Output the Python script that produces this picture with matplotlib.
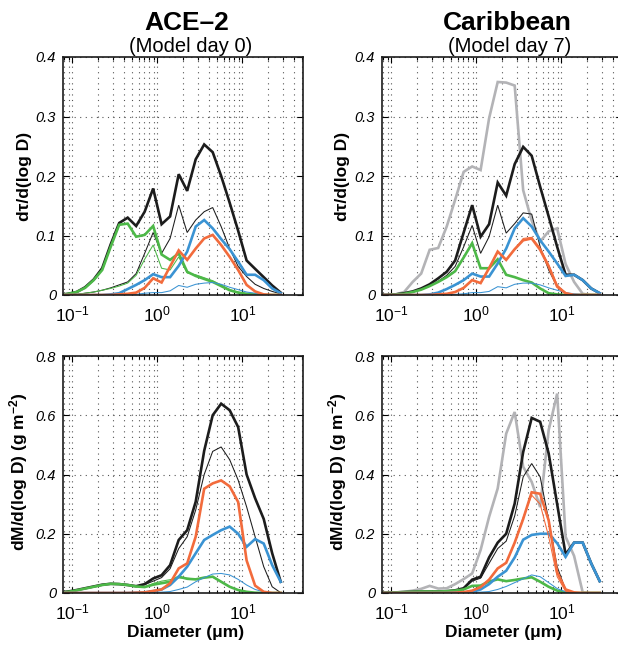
import numpy as np
import matplotlib
matplotlib.use('Agg')
import matplotlib.pyplot as plt

plt.rcParams['font.family'] = ['Liberation Sans', 'DejaVu Sans']
plt.rcParams['mathtext.fontset'] = 'custom'
plt.rcParams['mathtext.rm'] = 'Liberation Sans'
plt.rcParams['mathtext.it'] = 'Liberation Sans:italic'
plt.rcParams['mathtext.bf'] = 'Liberation Sans:bold'
plt.rcParams['mathtext.default'] = 'it'

# diametros dos bins (um), espacamento de 0.1 decada
diam = [0.071, 0.089, 0.112, 0.141, 0.178, 0.224, 0.282, 0.355, 0.447, 0.562,
        0.708, 0.891, 1.12, 1.41, 1.78, 2.24, 2.82, 3.55, 4.47, 5.62,
        7.08, 8.91, 11.2, 14.1, 17.8, 22.4, 28.2]

# ---- d tau / d log D, ACE-2 ----
tau_ace_black = [0, 0.002, 0.005, 0.013, 0.026, 0.045, 0.085, 0.121, 0.130, 0.116, 0.140, 0.179, 0.119, 0.132,
                 0.203, 0.175, 0.228, 0.253, 0.240, 0.200, 0.155, 0.108, 0.058, 0.044, 0.030, 0.016, 0.004]
tau_ace_black_thin = [0, 0, 0.001, 0.003, 0.005, 0.008, 0.012, 0.017, 0.022, 0.036, 0.070, 0.105, 0.070, 0.095,
                      0.151, 0.105, 0.126, 0.140, 0.147, 0.115, 0.078, 0.048, 0.031, 0.018, 0.011, 0.006, 0.002]
tau_ace_green = [0, 0.002, 0.005, 0.012, 0.025, 0.042, 0.081, 0.118, 0.120, 0.098, 0.101, 0.116, 0.068, 0.059,
                 0.070, 0.039, 0.032, 0.027, 0.022, 0.015, 0.008, 0.004, 0.002, 0.001, 0, 0, 0]
tau_ace_green_thin = [0, 0, 0.001, 0.003, 0.005, 0.008, 0.011, 0.015, 0.020, 0.033, 0.060, 0.084, 0.045, 0.042,
                      0.064, 0.037, 0.034, 0.029, 0.024, 0.017, 0.009, 0.005, 0.002, 0.001, 0, 0, 0]
tau_ace_blue = [0, 0, 0, 0, 0, 0, 0.001, 0.003, 0.010, 0.017, 0.025, 0.035, 0.030, 0.030,
                0.049, 0.073, 0.115, 0.126, 0.112, 0.094, 0.077, 0.056, 0.034, 0.034, 0.025, 0.011, 0.003]
tau_ace_blue_thin = [0, 0, 0, 0, 0, 0, 0, 0, 0, 0.001, 0.003, 0.004, 0.004, 0.007,
                     0.016, 0.013, 0.018, 0.020, 0.021, 0.018, 0.013, 0.009, 0.005, 0.003, 0.001, 0, 0]
tau_ace_orange = [0, 0, 0, 0, 0, 0, 0, 0.001, 0.002, 0.004, 0.012, 0.028, 0.021, 0.048,
                  0.075, 0.059, 0.078, 0.095, 0.101, 0.084, 0.064, 0.042, 0.017, 0.006, 0.001, 0, 0]

# ---- d tau / d log D, Caribe ----
tau_car_grey = [0, 0, 0.001, 0.005, 0.022, 0.036, 0.076, 0.079, 0.115, 0.160, 0.207, 0.216, 0.210, 0.297,
                0.358, 0.357, 0.352, 0.176, 0.125, 0.090, 0.107, 0.112, 0.052, 0.022, 0.002, 0, 0]
tau_car_black = [0, 0, 0.001, 0.003, 0.006, 0.011, 0.018, 0.028, 0.039, 0.058, 0.105, 0.151, 0.098, 0.119,
                 0.189, 0.167, 0.220, 0.249, 0.234, 0.182, 0.132, 0.081, 0.034, 0.034, 0.025, 0.011, 0.003]
tau_car_black_thin = [0, 0, 0.001, 0.002, 0.005, 0.009, 0.015, 0.023, 0.033, 0.048, 0.081, 0.117, 0.070, 0.098,
                      0.151, 0.104, 0.120, 0.138, 0.136, 0.081, 0.042, 0.014, 0.003, 0, 0, 0, 0]
tau_car_green = [0, 0, 0.001, 0.002, 0.005, 0.009, 0.015, 0.022, 0.030, 0.040, 0.063, 0.087, 0.045, 0.045,
                 0.060, 0.034, 0.030, 0.025, 0.021, 0.011, 0.003, 0.001, 0, 0, 0, 0, 0]
tau_car_blue = [0, 0, 0, 0, 0, 0, 0.001, 0.004, 0.010, 0.017, 0.025, 0.036, 0.031, 0.031,
                0.053, 0.078, 0.112, 0.129, 0.115, 0.092, 0.073, 0.053, 0.032, 0.034, 0.025, 0.011, 0.003]
tau_car_blue_thin = [0, 0, 0, 0, 0, 0, 0, 0, 0, 0.001, 0.002, 0.004, 0.004, 0.006,
                     0.014, 0.012, 0.018, 0.020, 0.020, 0.017, 0.012, 0.008, 0.004, 0.002, 0.001, 0, 0]
tau_car_orange = [0, 0, 0, 0, 0, 0, 0, 0.001, 0.002, 0.005, 0.012, 0.025, 0.020, 0.045,
                  0.073, 0.059, 0.077, 0.092, 0.095, 0.076, 0.048, 0.014, 0.003, 0, 0, 0, 0]
tau_car_orange_thin = [0, 0, 0, 0, 0, 0, 0, 0.001, 0.002, 0.005, 0.012, 0.025, 0.020, 0.045,
                       0.073, 0.059, 0.077, 0.095, 0.097, 0.079, 0.051, 0.017, 0.004, 0, 0, 0, 0]

# ---- dM / d log D, ACE-2 ----
mass_ace_black = [0.002, 0.005, 0.010, 0.016, 0.022, 0.028, 0.031, 0.030, 0.027, 0.023, 0.030, 0.049, 0.060, 0.094,
                  0.179, 0.212, 0.308, 0.480, 0.600, 0.639, 0.617, 0.560, 0.400, 0.320, 0.250, 0.134, 0.038]
mass_ace_black_thin = [0.002, 0.005, 0.010, 0.016, 0.022, 0.028, 0.031, 0.030, 0.027, 0.023, 0.028, 0.040, 0.052, 0.082,
                       0.150, 0.190, 0.280, 0.400, 0.478, 0.493, 0.450, 0.381, 0.291, 0.190, 0.089, 0.021, 0.001]
mass_ace_green = [0.001, 0.004, 0.009, 0.015, 0.021, 0.027, 0.031, 0.030, 0.027, 0.022, 0.020, 0.028, 0.033, 0.038,
                  0.055, 0.048, 0.046, 0.052, 0.055, 0.038, 0.021, 0.010, 0.004, 0.001, 0, 0, 0]
mass_ace_green_thin = [0.001, 0.004, 0.009, 0.015, 0.021, 0.027, 0.031, 0.030, 0.027, 0.022, 0.021, 0.032, 0.040, 0.045,
                       0.051, 0.050, 0.047, 0.051, 0.054, 0.038, 0.021, 0.010, 0.004, 0.001, 0, 0, 0]
mass_ace_blue = [0, 0, 0, 0, 0, 0, 0, 0, 0, 0.001, 0.002, 0.006, 0.012, 0.027,
                 0.055, 0.089, 0.134, 0.179, 0.196, 0.212, 0.224, 0.200, 0.156, 0.182, 0.167, 0.094, 0.038]
mass_ace_blue_thin = [0, 0, 0, 0, 0, 0, 0, 0, 0, 0, 0.001, 0.002, 0.003, 0.005,
                      0.012, 0.020, 0.038, 0.052, 0.064, 0.066, 0.061, 0.046, 0.027, 0.012, 0.004, 0.001, 0]
mass_ace_orange = [0, 0, 0, 0, 0, 0, 0, 0, 0, 0.001, 0.002, 0.007, 0.012, 0.033,
                   0.083, 0.100, 0.190, 0.352, 0.370, 0.380, 0.360, 0.307, 0.110, 0.025, 0.004, 0, 0]

# ---- dM / d log D, Caribe ----
mass_car_grey = [0, 0, 0.002, 0.004, 0.008, 0.014, 0.024, 0.015, 0.016, 0.030, 0.047, 0.066, 0.145, 0.257,
                 0.353, 0.538, 0.611, 0.426, 0.375, 0.290, 0.550, 0.673, 0.190, 0.125, 0.002, 0, 0]
mass_car_black = [0, 0.001, 0.002, 0.003, 0.004, 0.005, 0.005, 0.005, 0.006, 0.009, 0.016, 0.045, 0.055, 0.120,
                  0.170, 0.200, 0.302, 0.476, 0.591, 0.578, 0.471, 0.300, 0.130, 0.170, 0.170, 0.100, 0.040]
mass_car_black_thin = [0, 0.001, 0.002, 0.003, 0.004, 0.005, 0.005, 0.005, 0.006, 0.009, 0.015, 0.040, 0.050, 0.100,
                       0.150, 0.175, 0.260, 0.392, 0.437, 0.392, 0.246, 0.089, 0.010, 0, 0, 0, 0]
mass_car_green = [0, 0.001, 0.002, 0.003, 0.004, 0.005, 0.005, 0.005, 0.006, 0.008, 0.012, 0.024, 0.025, 0.039,
                  0.046, 0.040, 0.044, 0.049, 0.053, 0.038, 0.021, 0.008, 0.002, 0, 0, 0, 0]
mass_car_blue = [0, 0, 0, 0, 0, 0, 0, 0, 0, 0.001, 0.002, 0.004, 0.012, 0.030,
                 0.055, 0.075, 0.120, 0.180, 0.196, 0.200, 0.200, 0.168, 0.122, 0.170, 0.170, 0.100, 0.040]
mass_car_blue_thin = [0, 0, 0, 0, 0, 0, 0, 0, 0, 0, 0.001, 0.002, 0.003, 0.005,
                      0.012, 0.022, 0.035, 0.048, 0.061, 0.055, 0.035, 0.015, 0.004, 0, 0, 0, 0]
mass_car_orange = [0, 0, 0, 0, 0, 0, 0, 0, 0, 0.001, 0.003, 0.008, 0.020, 0.045,
                   0.083, 0.102, 0.170, 0.250, 0.340, 0.335, 0.245, 0.070, 0.012, 0.002, 0, 0, 0]
mass_car_orange_thin = [0, 0, 0, 0, 0, 0, 0, 0, 0, 0.001, 0.003, 0.008, 0.020, 0.045,
                        0.083, 0.102, 0.170, 0.255, 0.330, 0.300, 0.190, 0.055, 0.006, 0, 0, 0, 0]

# textos
titulos = ['ACE\u20132', 'Caribbean']
subtitulos = ['(Model day 0)', '(Model day 7)']
xticks = [0.1, 1, 10]
xticklabels = ['$10^{-1}$', '$10^{0}$', '$10^{1}$']
tau_ticks = [0, 0.1, 0.2, 0.3, 0.4]
tau_ticklabels = ['0', '0.1', '0.2', '0.3', '0.4']
mass_ticks = [0, 0.2, 0.4, 0.6, 0.8]
mass_ticklabels = ['0', '0.2', '0.4', '0.6', '0.8']

# cores
preto = '#1c1c1c'
cinza = '#b3b3b6'
verde = '#4db848'
azul = '#3a93d3'
laranja = '#f26b3c'
grosso = 1.9
fino = 0.75

W, H = 618, 647
fig = plt.figure(figsize=(W / 100, H / 100), dpi=100)


def eixo(x0, x1, y0, y1):
    return fig.add_axes([x0 / W, 1 - y1 / H, (x1 - x0) / W, (y1 - y0) / H])


ax_tl = eixo(63, 303, 57, 295)
ax_tr = eixo(382, 622, 57, 295)
ax_bl = eixo(63, 303, 356, 593)
ax_br = eixo(382, 622, 356, 593)

# curvas de cada painel: (valores, cor, largura)
paineis = [
    (ax_tl, [(tau_ace_black, preto, grosso), (tau_ace_black_thin, preto, fino),
             (tau_ace_green_thin, verde, fino), (tau_ace_green, verde, grosso),
             (tau_ace_blue_thin, azul, fino), (tau_ace_blue, azul, grosso),
             (tau_ace_orange, laranja, grosso)]),
    (ax_tr, [(tau_car_grey, cinza, grosso), (tau_car_black, preto, grosso),
             (tau_car_black_thin, preto, fino), (tau_car_green, verde, grosso),
             (tau_car_blue_thin, azul, fino), (tau_car_blue, azul, grosso),
             (tau_car_orange_thin, laranja, fino), (tau_car_orange, laranja, grosso)]),
    (ax_bl, [(mass_ace_black, preto, grosso), (mass_ace_black_thin, preto, fino),
             (mass_ace_green_thin, verde, fino), (mass_ace_green, verde, grosso),
             (mass_ace_blue_thin, azul, fino), (mass_ace_blue, azul, grosso),
             (mass_ace_orange, laranja, grosso)]),
    (ax_br, [(mass_car_grey, cinza, grosso), (mass_car_black, preto, grosso),
             (mass_car_black_thin, preto, fino), (mass_car_green, verde, grosso),
             (mass_car_blue_thin, azul, fino), (mass_car_blue, azul, grosso),
             (mass_car_orange_thin, laranja, fino), (mass_car_orange, laranja, grosso)]),
]

for ax, curvas in paineis:
    for valores, cor, lw in curvas:
        ax.plot(diam, valores, color=cor, lw=lw, solid_joinstyle='miter')
    ax.set_xscale('log')
    ax.set_xlim(0.0775, 51.6)
    ax.set_xticks(xticks)
    ax.set_xticklabels(xticklabels)
    ax.grid(True, which='both', axis='x', color='#555555', lw=0.8, ls=(0, (1, 4)))
    ax.grid(True, which='major', axis='y', color='#555555', lw=0.8, ls=(0, (1, 4)))
    ax.tick_params(which='both', direction='in', top=True, right=True, width=0.8)
    ax.tick_params(which='major', length=4)
    ax.tick_params(which='minor', length=2.5)
    ax.tick_params(axis='x', labelsize=12.5, pad=7)
    ax.tick_params(axis='y', labelsize=10.5, pad=5)
    for s in ax.spines.values():
        s.set_linewidth(1.2)
        s.set_color('#1c1c1c')

for ax in (ax_tl, ax_tr):
    ax.set_ylim(0, 0.4)
    ax.set_yticks(tau_ticks)
    ax.set_yticklabels(tau_ticklabels, fontstyle='italic')
for ax in (ax_bl, ax_br):
    ax.set_ylim(0, 0.8)
    ax.set_yticks(mass_ticks)
    ax.set_yticklabels(mass_ticklabels, fontstyle='italic')

# titulos
fig.text(187 / W, 1 - 23 / H, titulos[0], ha='center', va='center', fontsize=19, fontweight='bold')
fig.text(507 / W, 1 - 23 / H, titulos[1], ha='center', va='center', fontsize=19, fontweight='bold')
fig.text(191 / W, 1 - 46 / H, subtitulos[0], ha='center', va='center', fontsize=14.5)
fig.text(510 / W, 1 - 46 / H, subtitulos[1], ha='center', va='center', fontsize=14.5)

# rotulos dos eixos
for xc in (25, 343):
    fig.text(xc / W, 1 - 176 / H, 'd\u03c4/d(log D)', rotation=90, ha='center', va='center',
             fontsize=12.5, fontweight='bold')
for xc in (19, 338):
    fig.text(xc / W, 1 - 472 / H, 'dM/d(log D) (g m$^{\\mathbf{-2}}$)', rotation=90, ha='center',
             va='center', fontsize=12.5, fontweight='bold')
for xc in (186, 504):
    fig.text(xc / W, 1 - 633 / H, 'Diameter (\u03bcm)', ha='center', va='center',
             fontsize=12.5, fontweight='bold')

fig.savefig('out.png', dpi=100)
